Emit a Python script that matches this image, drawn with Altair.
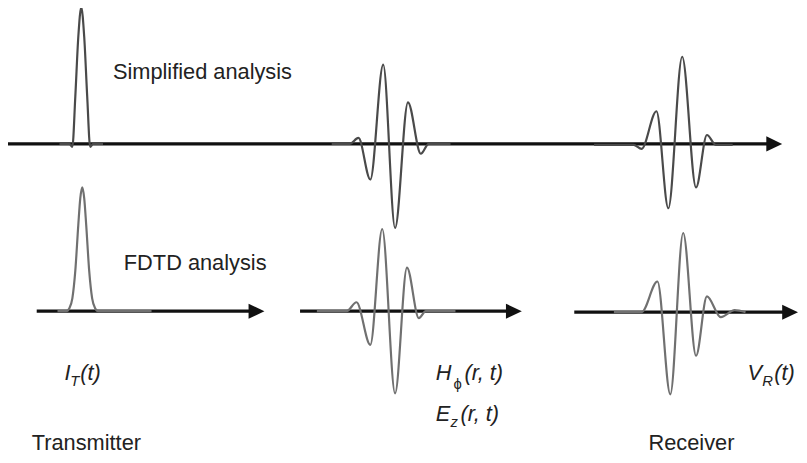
import altair as alt
import pandas as pd

# ---- waveform points (x, y in picture pixels, y grows downward)
top_pulse_x = [60, 70, 73, 76, 79, 82, 85, 88, 91, 94, 104]
top_pulse_y = [143, 143, 146, 95, 35, 5, 35, 95, 146, 143, 143]

top_mid_x = [335, 353, 362, 374, 387, 399, 412, 425, 433, 455]
top_mid_y = [143, 143, 137, 179, 63, 228, 101, 153, 143, 143]

top_right_x = [600, 640, 648, 663, 675, 689, 703, 714, 723, 740]
top_right_y = [144, 144, 148, 110, 208, 55, 187, 134, 144, 144]

bot_pulse_x = [58, 67, 70, 73, 76, 79, 81, 83, 85, 87, 90, 93, 96, 99, 153]
bot_pulse_y = [312, 312, 309, 299, 271, 225, 198, 187, 198, 225, 271, 299, 309, 312, 312]

bot_mid_x = [320, 350, 360, 374, 386, 399, 411, 423, 430, 460]
bot_mid_y = [312, 312, 303, 346, 229, 395, 268, 319, 312, 312]

bot_right_x = [620, 648, 664, 677, 690, 703, 714, 728, 742, 753]
bot_right_y = [313, 313, 282, 396, 233, 357, 297, 318, 311, 313]

# ---- axes (start, arrow tip, level)
axis_start = [6, 37, 303, 580]
axis_tip = [790, 267, 527, 806]
axis_level = [143, 312, 312, 313]

# ---- plain labels
label_text = ["Simplified analysis", "FDTD analysis", "Transmitter", "Receiver"]
label_x = [114, 125, 32, 655]
label_y = [77, 270, 452, 452]

# ---- italic math labels: main part, subscript, rest
math_main = ["I", "H", "E", "V"]
math_main_x = [65, 440, 440, 755]
math_y = [382, 382, 423, 382]
math_sub = ["T", "", "z", "R"]
math_sub_x = [71, 457, 455, 770]
math_rest = ["(t)", "(r, t)", "(r, t)", "(t)"]
math_rest_x = [81, 469, 465, 782]
phi_text = ["\u03d5"]
phi_x = [458]
phi_y = [391]

X = alt.Scale(domain=[8, 799])
Y = alt.Scale(domain=[8, 455], reverse=True)
FONT = "Liberation Sans"


def wave(xs, ys, name, color):
    df = pd.DataFrame({"x": xs, "y": ys, "i": range(len(xs)), "s": name})
    return alt.Chart(df).mark_line(
        color=color, strokeWidth=2.2, interpolate="monotone"
    ).encode(
        x=alt.X("x:Q", scale=X, axis=None),
        y=alt.Y("y:Q", scale=Y, axis=None),
        order="i:Q",
    )


def texts(ts, xs, ys, size, style):
    df = pd.DataFrame({"t": ts, "x": xs, "y": ys})
    return alt.Chart(df).mark_text(
        align="left", baseline="alphabetic", font=FONT, fontSize=size,
        fontStyle=style, color="#222222"
    ).encode(
        x=alt.X("x:Q", scale=X, axis=None),
        y=alt.Y("y:Q", scale=Y, axis=None),
        text="t:N",
    )


axes_df = pd.DataFrame({
    "x": axis_start,
    "x2": [t - 8 for t in axis_tip],
    "tipc": [t - 8 for t in axis_tip],
    "y": axis_level,
})

axis_lines = alt.Chart(axes_df).mark_rule(color="#111111", strokeWidth=3.2).encode(
    x=alt.X("x:Q", scale=X, axis=None),
    x2="x2:Q",
    y=alt.Y("y:Q", scale=Y, axis=None),
)

arrows = alt.Chart(axes_df).mark_point(
    shape="M -1 -0.95 L 1 0 L -1 0.95 Z",
    filled=True, color="#111111", opacity=1, size=256, strokeWidth=0,
).encode(
    x=alt.X("tipc:Q", scale=X, axis=None),
    y=alt.Y("y:Q", scale=Y, axis=None),
)

chart = alt.layer(
    axis_lines,
    arrows,
    wave(top_pulse_x, top_pulse_y, "tp", "#4a4a4a"),
    wave(top_mid_x, top_mid_y, "tm", "#4a4a4a"),
    wave(top_right_x, top_right_y, "tr", "#4a4a4a"),
    wave(bot_pulse_x, bot_pulse_y, "bp", "#707070"),
    wave(bot_mid_x, bot_mid_y, "bm", "#707070"),
    wave(bot_right_x, bot_right_y, "br", "#707070"),
    texts(label_text, label_x, label_y, 22, "normal"),
    texts(math_main, math_main_x, math_y, 22, "italic"),
    texts(math_sub, math_sub_x, [v + 6 for v in math_y], 15, "italic"),
    texts(phi_text, phi_x, phi_y, 15, "normal"),
    texts(math_rest, math_rest_x, math_y, 22, "italic"),
).properties(
    width=791,
    height=447,
    padding={"left": 0, "top": 0, "right": 8, "bottom": 0},
    autosize=alt.AutoSizeParams(type="none"),
    background="white",
).configure_view(stroke=None)

chart.save("out.html", embed_options={"renderer": "svg", "actions": False})
